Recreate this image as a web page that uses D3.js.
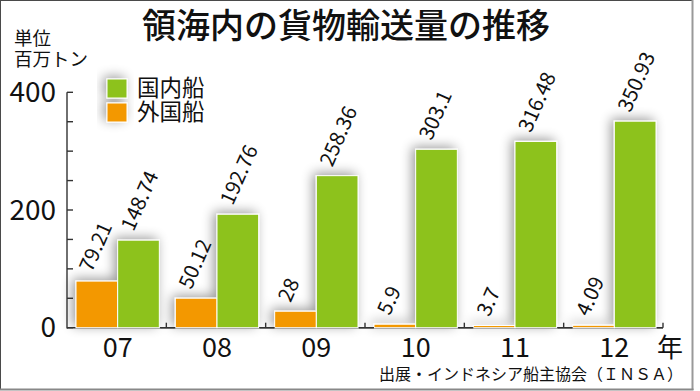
<!DOCTYPE html>
<html><head><meta charset="utf-8">
<script src="https://cdn.jsdelivr.net/npm/d3@7"></script>
<style>
html,body{margin:0;padding:0;background:#fff;}
svg{display:block;font-family:"Noto Sans CJK JP","Noto Sans",sans-serif;}
</style></head>
<body><svg id="c" width="700" height="391"></svg>
<script>
const title = "領海内の貨物輸送量の推移";
const unitLines = ["単位", "百万トン"];
const years = ["07", "08", "09", "10", "11", "12"];
const domestic = [148.74, 192.76, 258.36, 303.1, 316.48, 350.93];
const foreign = [79.21, 50.12, 28, 5.9, 3.7, 4.09];
const seriesNames = ["国内船", "外国船"];
const yMajorTicks = [0, 200, 400];
const yMinorTicks = [0, 50, 100, 150, 200, 250, 300, 350, 400];
const yearSuffix = "年";
const source = "出展・インドネシア船主協会（ＩＮＳＡ）";

const GREEN = "#8dc21f", ORANGE = "#f39800";
const svg = d3.select("#c");

const defs = svg.append("defs");
const f = defs.append("filter").attr("id","sh").attr("x","-50%").attr("y","-50%").attr("width","200%").attr("height","200%");
f.append("feGaussianBlur").attr("in","SourceAlpha").attr("stdDeviation",6).attr("result","b");
f.append("feOffset").attr("in","b").attr("dx",-3).attr("dy",-2).attr("result","o");
f.append("feComponentTransfer").attr("in","o").attr("result","o2")
  .append("feFuncA").attr("type","linear").attr("slope",0.4);
const m = f.append("feMerge");
m.append("feMergeNode").attr("in","o2");
m.append("feMergeNode").attr("in","SourceGraphic");

// frame
svg.append("rect").attr("x",0.5).attr("y",0.5).attr("width",692).attr("height",389)
  .attr("fill","#fff").attr("stroke","#4a4a4a").attr("stroke-width",1);
svg.append("line").attr("x1",692.5).attr("x2",692.5).attr("y1",0).attr("y2",390).attr("stroke","#999").attr("stroke-width",2);
svg.append("line").attr("x1",0).attr("x2",693.5).attr("y1",389.5).attr("y2",389.5).attr("stroke","#888").attr("stroke-width",2);

const y = d3.scaleLinear().domain([0,400]).range([327.7, 92.3]);
const x = d3.scaleBand().domain(years).range([67, 663]).padding(0);
const bw = (x.bandwidth() - 16) / 2;

// title
svg.append("text").attr("x",346).attr("y",38).attr("text-anchor","middle")
  .attr("font-size",34).attr("font-weight",500).attr("fill","#111").text(title);

// unit
unitLines.forEach((t,i)=>{
  svg.append("text").attr("x",14).attr("y",45 + i*21).attr("font-size",18.5).attr("fill","#111").text(t);
});

// baseline (under bars)
const base = svg.append("g").attr("stroke","#333").attr("stroke-width",1.4);
base.append("line").attr("x1",67).attr("x2",663).attr("y1",y(0)).attr("y2",y(0));

// bars
const bars = svg.append("g").attr("filter","url(#sh)");
years.forEach((yr,i)=>{
  const x0 = x(yr) + 9;
  bars.append("rect").attr("x",x0).attr("y",y(foreign[i])).attr("width",bw)
    .attr("height",y(0)-y(foreign[i])).attr("fill",ORANGE).attr("stroke","#fff").attr("stroke-width",1);
  bars.append("rect").attr("x",x0+bw).attr("y",y(domestic[i])).attr("width",bw)
    .attr("height",y(0)-y(domestic[i])).attr("fill",GREEN).attr("stroke","#fff").attr("stroke-width",1);
});

// axes
const ax = svg.append("g").attr("stroke","#333").attr("stroke-width",1.4).attr("fill","none");
ax.append("line").attr("x1",67).attr("x2",67).attr("y1",y(400)).attr("y2",y(0)+0.7);
yMinorTicks.forEach(v=>{
  ax.append("line").attr("x1",67).attr("x2",73).attr("y1",y(v)).attr("y2",y(v));
});
years.forEach((yr,i)=>{
  const xb = x(yr) + x.bandwidth();
  ax.append("line").attr("x1",xb).attr("x2",xb).attr("y1",y(0)).attr("y2",y(0)-5);
  const xe = i < years.length-1 ? x(years[i+1]) + 9 : xb;
  ax.append("line").attr("x1",xb-6).attr("x2",xe).attr("y1",y(0)).attr("y2",y(0));
});

yMajorTicks.forEach(v=>{
  svg.append("text").attr("x",56).attr("y",y(v)+9.5).attr("text-anchor","end")
    .attr("font-size",28).attr("fill","#111").text(v);
});

// x labels
years.forEach(yr=>{
  svg.append("text").attr("x",x(yr)+9+bw).attr("y",357).attr("text-anchor","middle")
    .attr("font-size",27).attr("fill","#111").text(yr);
});
svg.append("text").attr("x",657).attr("y",357).attr("font-size",26).attr("fill","#111").text(yearSuffix);

// value labels
function vlabel(cx, top, v){
  svg.append("text").attr("transform",`translate(${cx-5},${top-8}) rotate(-66)`)
    .attr("font-size",20.5).attr("fill","#111").text(String(v));
}
years.forEach((yr,i)=>{
  const x0 = x(yr)+9;
  vlabel(x0+bw/2, y(foreign[i]), foreign[i]);
  vlabel(x0+bw*1.5, y(domestic[i]), domestic[i]);
});

// legend
const lg = svg.append("g");
const sw = lg.append("g").attr("filter","url(#sh)");
[GREEN, ORANGE].forEach((c,i)=>{
  sw.append("rect").attr("x",107).attr("y",79+i*24).attr("width",20).attr("height",19)
    .attr("fill",c).attr("stroke","#fff").attr("stroke-width",1);
  lg.append("text").attr("x",137).attr("y",96+i*24).attr("font-size",22.5).attr("fill","#111").text(seriesNames[i]);
});

// source
svg.append("text").attr("x",683).attr("y",380).attr("text-anchor","end")
  .attr("font-size",16).attr("fill","#111").text(source);
</script></body></html>
